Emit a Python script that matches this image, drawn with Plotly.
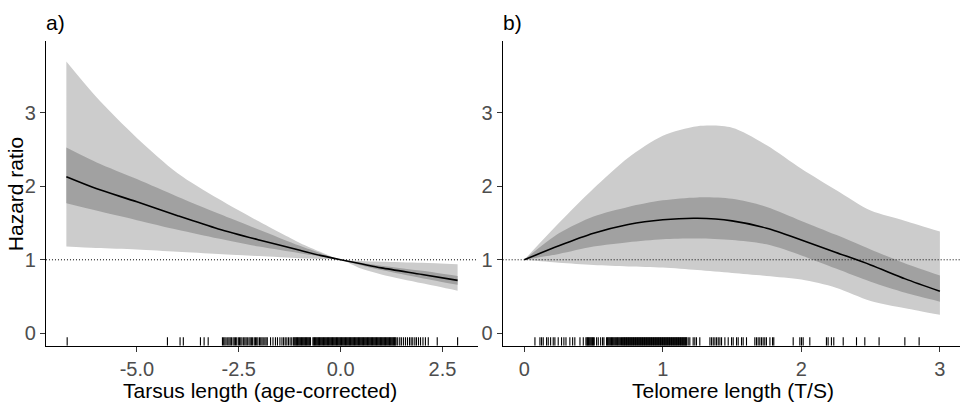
import plotly.graph_objects as go

# ---------------- Panel a: Tarsus length ----------------
a_x       = [-6.73, -6.0, -5.0, -4.0, -3.0, -2.0, -1.0, -0.5, 0.0, 0.5, 1.0, 2.0, 2.87]
a_mean    = [2.13, 1.97, 1.79, 1.60, 1.42, 1.27, 1.13, 1.06, 1.00, 0.945, 0.89, 0.80, 0.72]
a_dark_lo = [1.77, 1.67, 1.54, 1.41, 1.29, 1.18, 1.09, 1.045, 1.00, 0.925, 0.86, 0.75, 0.66]
a_dark_hi = [2.53, 2.33, 2.10, 1.86, 1.63, 1.41, 1.19, 1.09, 1.00, 0.96, 0.92, 0.85, 0.78]
a_lite_lo = [1.18, 1.16, 1.14, 1.11, 1.08, 1.05, 1.02, 1.01, 1.00, 0.88, 0.80, 0.68, 0.58]
a_lite_hi = [3.70, 3.22, 2.66, 2.18, 1.83, 1.52, 1.23, 1.11, 1.00, 0.985, 0.975, 0.96, 0.94]

a_rug = [-6.71, -4.25, -3.94, -3.86, -3.44, -3.35, -3.25,
         -2.90, -2.87, -2.84, -2.81, -2.77, -2.74, -2.71, -2.68, -2.64, -2.61, -2.58,
         -2.55, -2.51, -2.48, -2.45, -2.42, -2.38, -2.35, -2.32, -2.29, -2.25, -2.22,
         -2.19, -2.16, -2.12, -2.09, -2.06, -2.03, -1.99, -1.96, -1.93, -1.90, -1.86,
         -1.83, -1.80, -1.72, -1.66, -1.60, -1.55, -1.49, -1.44, -1.40, -1.36, -1.32,
         -1.28, -1.24, -1.20,
         -1.16, -1.14, -1.12, -1.10, -1.08, -1.06, -1.04, -1.02, -1.00, -0.98, -0.96,
         -0.94, -0.92, -0.90, -0.88, -0.86, -0.84, -0.82, -0.80, -0.78, -0.76, -0.74,
         -0.68, -0.66, -0.64, -0.62, -0.60, -0.58, -0.56, -0.54, -0.52, -0.50, -0.48,
         -0.46, -0.44, -0.42, -0.40, -0.38, -0.36, -0.34, -0.32, -0.30, -0.28, -0.26,
         -0.24, -0.22, -0.20, -0.18, -0.16, -0.14, -0.12, -0.10, -0.08, -0.06, -0.04,
         -0.02, 0.00, 0.02, 0.04, 0.06, 0.08, 0.10, 0.12, 0.14, 0.16, 0.18, 0.20, 0.22,
         0.24, 0.26, 0.28, 0.30, 0.32, 0.34, 0.36, 0.38, 0.40, 0.42, 0.44, 0.46, 0.48,
         0.50, 0.52, 0.54, 0.56, 0.58, 0.60, 0.62, 0.64, 0.66, 0.68, 0.70, 0.72, 0.74,
         0.76, 0.78, 0.80, 0.82, 0.84, 0.86, 0.88, 0.90, 0.92, 0.94, 0.96, 0.98, 1.00,
         1.02, 1.04, 1.06, 1.08, 1.10, 1.12, 1.14, 1.16, 1.18, 1.20, 1.22, 1.24, 1.26,
         1.28, 1.30, 1.32, 1.34, 1.36,
         1.40, 1.45, 1.49, 1.54, 1.59, 1.64, 1.69, 1.73, 1.77, 1.82, 1.86, 1.91, 1.96,
         2.02, 2.08, 2.15, 2.37, 2.87]

# ---------------- Panel b: Telomere length ----------------
b_x       = [0.0, 0.25, 0.5, 0.75, 1.0, 1.25, 1.5, 1.75, 2.0, 2.25, 2.5, 2.75, 3.0]
b_mean    = [1.00, 1.19, 1.36, 1.48, 1.545, 1.565, 1.53, 1.43, 1.27, 1.10, 0.93, 0.74, 0.57]
b_dark_lo = [1.00, 1.08, 1.18, 1.24, 1.28, 1.29, 1.27, 1.21, 1.06, 0.88, 0.70, 0.55, 0.43]
b_dark_hi = [1.00, 1.36, 1.59, 1.72, 1.81, 1.85, 1.83, 1.72, 1.53, 1.34, 1.14, 0.95, 0.785]
b_lite_lo = [1.00, 0.96, 0.93, 0.91, 0.895, 0.86, 0.82, 0.78, 0.73, 0.62, 0.44, 0.34, 0.25]
b_lite_hi = [1.00, 1.50, 1.97, 2.39, 2.69, 2.82, 2.80, 2.56, 2.24, 1.95, 1.67, 1.53, 1.385]

b_rug = [0.077, 0.113, 0.125, 0.137, 0.161, 0.173, 0.190, 0.209, 0.221, 0.245, 0.269,
         0.286, 0.301, 0.329, 0.349, 0.365, 0.402, 0.426, 0.445, 0.452, 0.457, 0.463,
         0.469, 0.475, 0.481, 0.487, 0.493, 0.499, 0.505, 0.522, 0.534, 0.551, 0.565,
         0.575, 0.594, 0.600, 0.606, 0.612, 0.618, 0.624, 0.630, 0.636, 0.642, 0.648,
         0.654, 0.660, 0.667, 0.672, 0.678, 0.684, 0.690, 0.696, 0.702,
         0.708, 0.713, 0.718, 0.723, 0.728, 0.733, 0.738, 0.743, 0.748, 0.753, 0.758,
         0.763, 0.768, 0.773, 0.778, 0.783, 0.788, 0.793, 0.798, 0.803, 0.808, 0.813,
         0.818, 0.823, 0.828, 0.833, 0.838, 0.843, 0.848, 0.853, 0.858, 0.863, 0.868,
         0.873, 0.878, 0.883, 0.888, 0.893, 0.898, 0.903, 0.908, 0.913, 0.918, 0.923,
         0.928, 0.933, 0.938, 0.943, 0.948, 0.953, 0.958, 0.963, 0.968, 0.973, 0.978,
         0.983, 0.988, 0.993, 0.998, 1.003, 1.008, 1.013, 1.018, 1.023, 1.028, 1.033,
         1.038, 1.043, 1.048, 1.053, 1.058, 1.063, 1.068, 1.073, 1.078, 1.083, 1.088,
         1.093, 1.098, 1.103, 1.108, 1.113, 1.118, 1.123, 1.128, 1.133, 1.138, 1.143,
         1.148, 1.153, 1.158, 1.163, 1.168, 1.172,
         1.183, 1.195, 1.219, 1.231, 1.243, 1.267, 1.340, 1.352, 1.364, 1.376, 1.388,
         1.400, 1.412, 1.424, 1.448, 1.472, 1.496, 1.508, 1.532, 1.544, 1.568, 1.580,
         1.604, 1.664, 1.676, 1.688, 1.700, 1.712, 1.724, 1.736, 1.748, 1.773, 1.792,
         1.801, 1.941, 1.989, 2.001, 2.013, 2.061, 2.181, 2.193, 2.217, 2.234, 2.302,
         2.398, 2.458, 2.561, 2.747, 2.850]

x_ticks_a = [-5.0, -2.5, 0.0, 2.5]
x_ticklabels_a = ["-5.0", "-2.5", "0.0", "2.5"]
x_ticks_b = [0, 1, 2, 3]
y_ticks = [0, 1, 2, 3]

LIGHT = "#CCCCCC"
DARK = "#A1A1A1"
FONT = "Liberation Sans, Arial, sans-serif"
RUG_BOTTOM, RUG_TOP = -0.17, -0.055   # rug tick extent in data units (bottom of panel)

fig = go.Figure()


def add_panel(xs, mean, dlo, dhi, llo, lhi, rug, xa, ya):
    common = dict(xaxis=xa, yaxis=ya, showlegend=False, hoverinfo="skip")
    sp = dict(shape="spline", smoothing=0.8)
    fig.add_trace(go.Scatter(x=xs, y=llo, mode="lines", line=dict(width=0, **sp), **common))
    fig.add_trace(go.Scatter(x=xs, y=lhi, mode="lines", line=dict(width=0, **sp),
                             fill="tonexty", fillcolor=LIGHT, **common))
    fig.add_trace(go.Scatter(x=xs, y=dlo, mode="lines", line=dict(width=0, **sp), **common))
    fig.add_trace(go.Scatter(x=xs, y=dhi, mode="lines", line=dict(width=0, **sp),
                             fill="tonexty", fillcolor=DARK, **common))
    fig.add_trace(go.Scatter(x=xs, y=mean, mode="lines",
                             line=dict(width=1.6, color="black", **sp), **common))
    # rug: one vertical segment per observation
    rx, ry = [], []
    for v in rug:
        rx += [v, v, None]
        ry += [RUG_BOTTOM, RUG_TOP, None]
    fig.add_trace(go.Scatter(x=rx, y=ry, mode="lines", connectgaps=False,
                             line=dict(width=1.1, color="black", simplify=False),
                             cliponaxis=False, **common))


add_panel(a_x, a_mean, a_dark_lo, a_dark_hi, a_lite_lo, a_lite_hi, a_rug, "x", "y")
add_panel(b_x, b_mean, b_dark_lo, b_dark_hi, b_lite_lo, b_lite_hi, b_rug, "x2", "y2")

axis_common = dict(showgrid=False, zeroline=False, showline=True, linecolor="black", linewidth=1.3,
                   ticks="outside", ticklen=5, tickwidth=1, tickcolor="#333333",
                   tickfont=dict(family=FONT, size=20, color="#4D4D4D"))

ydom = [0.1422, 0.8983]
fig.update_layout(
    width=960, height=403,
    margin=dict(l=0, r=0, t=0, b=0),
    paper_bgcolor="white", plot_bgcolor="white",
    xaxis=dict(domain=[0.0479, 0.4979], range=[-7.23, 3.37], tickvals=x_ticks_a,
               ticktext=x_ticklabels_a, anchor="y", **axis_common),
    yaxis=dict(domain=ydom, range=[-0.17, 3.98], tickvals=y_ticks, anchor="x", **axis_common),
    xaxis2=dict(domain=[0.5236, 1.0], range=[-0.156, 3.145], tickvals=x_ticks_b, anchor="y2", **axis_common),
    yaxis2=dict(domain=ydom, range=[-0.17, 3.98], tickvals=y_ticks, anchor="x2", **axis_common),
)

# reference line at HR = 1
for xr, yr in (("x domain", "y"), ("x2 domain", "y2")):
    fig.add_shape(type="line", xref=xr, yref=yr, x0=0, x1=1, y0=1, y1=1,
                  line=dict(color="black", width=1, dash="1px,2px"), layer="above")

ann = dict(showarrow=False, xref="paper", yref="paper", font=dict(family=FONT, size=21, color="black"))
fig.add_annotation(text="a)", x=0.046, y=0.945, xanchor="left", yanchor="middle", **ann)
fig.add_annotation(text="b)", x=0.522, y=0.945, xanchor="left", yanchor="middle", **ann)
fig.add_annotation(text="Hazard ratio", x=0.016, y=0.519, textangle=-90,
                   xanchor="center", yanchor="middle", **ann)
fig.add_annotation(text="Tarsus length (age-corrected)", x=0.271, y=0.03,
                   xanchor="center", yanchor="middle", **ann)
fig.add_annotation(text="Telomere length (T/S)", x=0.7639, y=0.03,
                   xanchor="center", yanchor="middle", **ann)

fig.write_html("out.html")
